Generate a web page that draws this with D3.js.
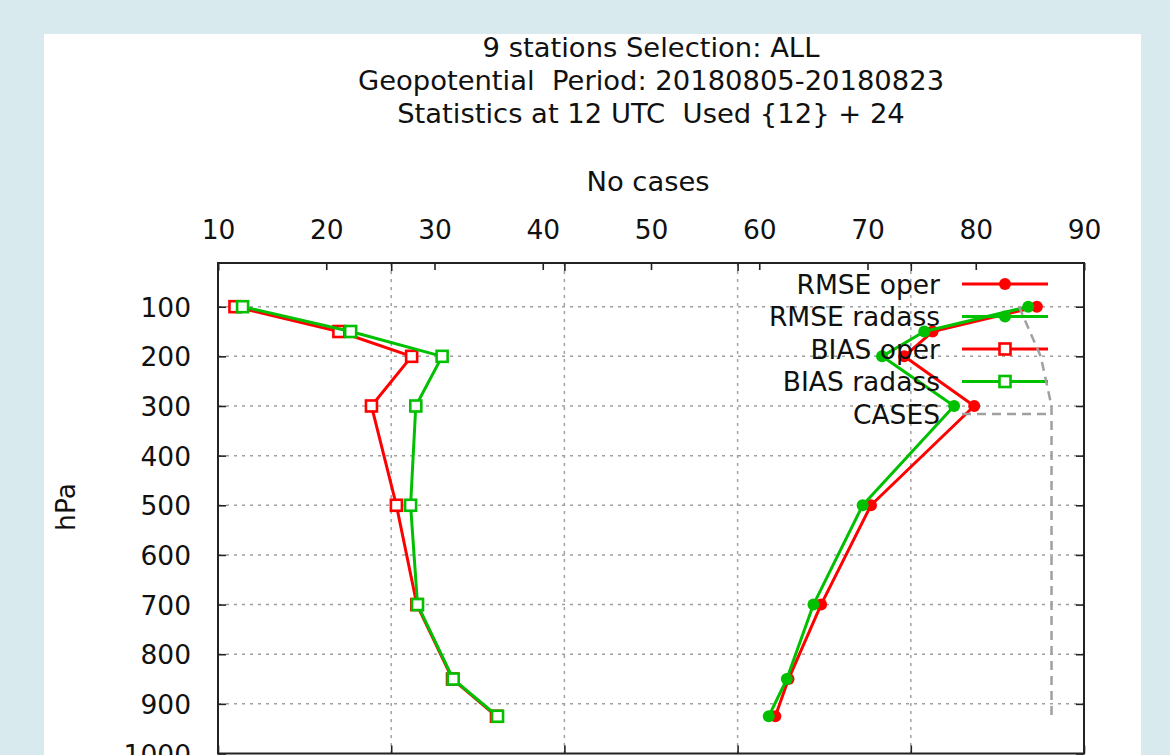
<!DOCTYPE html>
<html><head><meta charset="utf-8">
<script src="https://cdn.jsdelivr.net/npm/d3@7"></script>
<style>body{margin:0;background:#d8eaee;} svg{display:block} text{white-space:pre}</style>
</head><body><svg id="c" width="1170" height="755"></svg>
<script>
// ---- data ----
const levels = [100, 150, 200, 300, 500, 700, 850, 925];
const rmseOper = [13.64, 10.63, 9.81, 11.83, 8.85, 7.41, 6.47, 6.09];
const rmseRadass = [13.39, 10.39, 9.17, 11.25, 8.61, 7.19, 6.42, 5.90];
const biasOper = [-9.51, -6.51, -4.41, -5.57, -4.85, -4.26, -3.23, -1.96];
const biasRadass = [-9.29, -6.17, -3.53, -4.29, -4.44, -4.24, -3.21, -1.93];
const cases = [84, 85, 86, 87, 87, 87, 87, 87];
const yTicks = [100, 200, 300, 400, 500, 600, 700, 800, 900, 1000];
const x2Ticks = [10, 20, 30, 40, 50, 60, 70, 80, 90];
const x1Ticks = [-10, -5, 0, 5, 10, 15];
const titleLines = ["9 stations Selection: ALL", "Geopotential  Period: 20180805-20180823", "Statistics at 12 UTC  Used {12} + 24"];
const seriesNames = ["RMSE oper", "RMSE radass", "BIAS oper", "BIAS radass", "CASES"];

// ---- layout ----
const L = 218, R = 1084, T = 263, B = 753.5;
const FONT = "DejaVu Sans, sans-serif", FS = "26.5px", FST = "27.4px";
const svg = d3.select("#c");
svg.append("rect").attr("x", 44).attr("y", 34).attr("width", 1097).attr("height", 760).attr("fill", "#fff");

const x = d3.scaleLinear([-10, 15], [L, R]);
const x2 = d3.scaleLinear([10, 90], [L, R]);
const y = d3.scaleLinear([12, 1000], [T, B]);

// grid
const grid = svg.append("g").attr("stroke", "#a0a0a0").attr("stroke-width", 1.5).attr("stroke-dasharray", "3,5");
grid.selectAll("line.h").data(yTicks.filter(d => d < 1000)).join("line")
  .attr("x1", L).attr("x2", R).attr("y1", d => y(d)).attr("y2", d => y(d));
grid.selectAll("line.v").data(x1Ticks.slice(1, -1)).join("line").attr("class", "v")
  .attr("y1", T).attr("y2", B).attr("x1", d => x(d)).attr("x2", d => x(d));

function style(g) {
  g.select(".domain").remove();
  g.selectAll("line").attr("stroke", "#222").attr("stroke-width", 1.6);
  g.selectAll("text").attr("font-family", FONT).attr("font-size", FS).attr("fill", "#111");
}
// axes
svg.append("g").attr("transform", `translate(${L},0)`)
  .call(d3.axisLeft(y).tickValues(yTicks).tickFormat(d3.format("d")).tickSize(-8).tickPadding(27)).call(style)
  .selectAll("text").attr("dy", "0.36em");
svg.append("g").attr("transform", `translate(${R},0)`)
  .call(d3.axisRight(y).tickValues(yTicks).tickSize(-8).tickFormat("")).call(style);
svg.append("g").attr("transform", `translate(0,${T})`)
  .call(d3.axisTop(x2).tickValues(x2Ticks).tickSize(-7).tickPadding(24)).call(style);
svg.append("g").attr("transform", `translate(0,${T})`)
  .call(d3.axisTop(x).tickValues(x1Ticks).tickSize(-8).tickFormat("")).call(style);
svg.append("g").attr("transform", `translate(0,${B})`)
  .call(d3.axisBottom(x).tickValues(x1Ticks).tickSize(-8).tickFormat("")).call(style);

// border
svg.append("rect").attr("x", L).attr("y", T).attr("width", R - L).attr("height", B - T)
  .attr("fill", "none").attr("stroke", "#222").attr("stroke-width", 2);

// titles
const txt = (s, xx, yy, anchor, fs) => svg.append("text").text(s).attr("x", xx).attr("y", yy)
  .attr("text-anchor", anchor || "middle").attr("font-family", FONT).attr("font-size", fs || FS).attr("fill", "#111");
titleLines.forEach((s, i) => txt(s, 651, 57 + i * 33, "middle", FST));
txt("No cases", 648, 191, "middle", FST);
txt("hPa", 0, 0).attr("transform", "translate(75,507) rotate(-90)");

// series
const RED = "#ff0000", GREEN = "#00c000", GRAY = "#a0a0a0";
const series = [
  {vals: rmseOper, color: RED, mark: "dot", sc: x},
  {vals: rmseRadass, color: GREEN, mark: "dot", sc: x},
  {vals: biasOper, color: RED, mark: "sq", sc: x},
  {vals: biasRadass, color: GREEN, mark: "sq", sc: x},
  {vals: cases, color: GRAY, mark: null, sc: x2, dash: "9,6"}
];
function marker(g, px, py, s) {
  if (s.mark === "dot") g.append("circle").attr("cx", px).attr("cy", py).attr("r", 6).attr("fill", s.color);
  else if (s.mark === "sq") g.append("rect").attr("x", px - 5.5).attr("y", py - 5.5).attr("width", 11).attr("height", 11)
    .attr("fill", "#fff").attr("stroke", s.color).attr("stroke-width", 2.6);
}
series.forEach((s, i) => {
  const ly = 284 + i * 32.5;
  const g = svg.append("g");
  txt(seriesNames[i], 940, ly + 9.5, "end");
  g.append("line").attr("x1", 962).attr("x2", 1048).attr("y1", ly).attr("y2", ly)
    .attr("stroke", s.color).attr("stroke-width", s.dash ? 2.5 : 3).attr("stroke-dasharray", s.dash || null);
  marker(g, 1005, ly, s);
  const line = d3.line().x((d, j) => s.sc(d)).y((d, j) => y(levels[j]));
  g.append("path").attr("d", line(s.vals)).attr("fill", "none").attr("stroke", s.color)
    .attr("stroke-width", s.dash ? 2.5 : 3).attr("stroke-dasharray", s.dash || null).attr("stroke-linejoin", "round");
  s.vals.forEach((v, j) => marker(g, s.sc(v), y(levels[j]), s));
});
</script></body></html>
